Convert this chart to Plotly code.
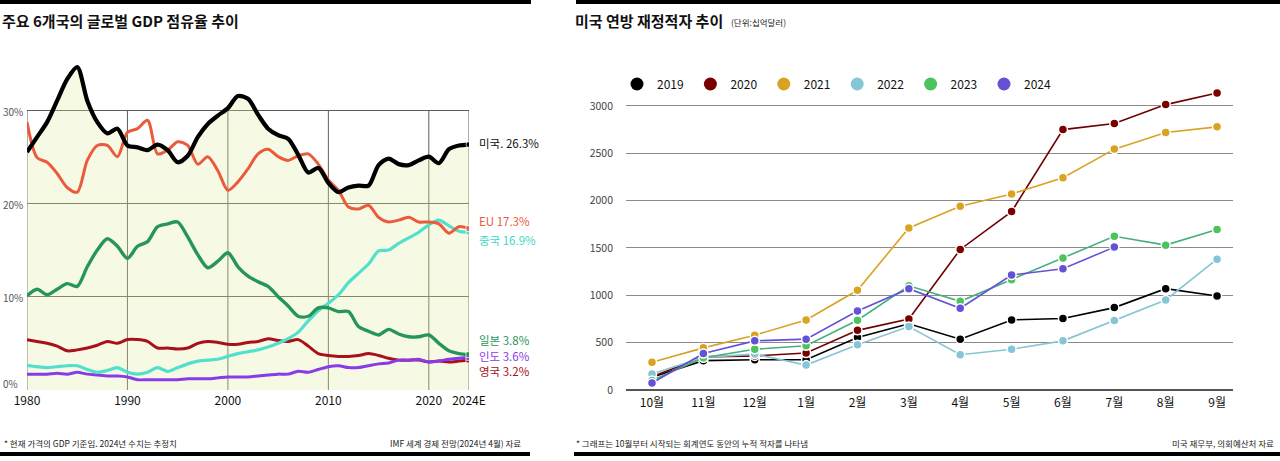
import plotly.graph_objects as go

# ---------------- Left chart data: global GDP share (%) ----------------
years = list(range(1980, 2025))
us = [25.5, 27.1, 28.7, 31.0, 33.3, 34.6, 31.0, 28.7, 27.5, 28.0,
      26.2, 26.0, 25.7, 26.3, 25.7, 24.4, 25.1, 27.1, 28.5, 29.4,
      30.2, 31.5, 31.2, 29.5, 28.0, 27.3, 26.9, 25.2, 23.3, 23.8,
      22.2, 21.2, 21.7, 21.9, 21.9, 24.1, 24.8, 24.2, 24.1, 24.6,
      25.0, 24.3, 25.8, 26.2, 26.3]
eu = [28.7, 24.9, 24.4, 23.2, 21.7, 21.2, 24.6, 26.2, 26.2, 25.0,
      27.6, 28.0, 28.9, 25.3, 25.7, 26.6, 26.2, 24.2, 25.0, 23.5,
      21.4, 22.3, 23.7, 25.3, 25.8, 25.0, 24.6, 25.1, 25.3, 24.2,
      22.5, 21.4, 19.6, 19.4, 19.8, 18.5, 18.0, 18.2, 18.5, 18.0,
      18.0, 17.8, 16.8, 17.5, 17.3]
china = [2.65, 2.5, 2.4, 2.5, 2.6, 2.6, 2.2, 1.9, 2.1, 2.4,
         1.9, 1.7, 1.9, 2.4, 2.0, 2.4, 2.8, 3.1, 3.2, 3.3,
         3.6, 3.9, 4.1, 4.3, 4.6, 5.0, 5.5, 6.2, 7.4, 8.5,
         9.3, 10.2, 11.5, 12.5, 13.5, 14.9, 15.0, 15.7, 16.3, 16.9,
         17.7, 18.2, 17.6, 17.0, 16.9]
japan = [10.1, 10.8, 10.2, 10.8, 11.4, 11.1, 13.2, 15.0, 16.2, 15.4,
         14.1, 15.4, 15.9, 17.5, 17.8, 18.0, 16.4, 14.5, 13.1, 13.8,
         14.7, 13.2, 12.2, 11.6, 11.1, 10.0, 9.0, 7.9, 7.9, 8.8,
         8.8, 8.4, 8.4, 6.8, 6.3, 5.9, 6.5, 6.0, 5.7, 5.7,
         5.9, 5.0, 4.2, 3.9, 3.8]
india = [1.7, 1.7, 1.7, 1.8, 1.7, 1.9, 1.7, 1.6, 1.5, 1.5,
         1.4, 1.1, 1.1, 1.1, 1.1, 1.1, 1.2, 1.2, 1.2, 1.3,
         1.4, 1.4, 1.4, 1.5, 1.6, 1.7, 1.7, 2.0, 1.9, 2.2,
         2.5, 2.6, 2.4, 2.4, 2.6, 2.8, 2.9, 3.2, 3.2, 3.3,
         3.0, 3.1, 3.3, 3.4, 3.5]
uk = [5.4, 5.2, 5.0, 4.7, 4.2, 4.3, 4.5, 4.8, 5.2, 5.0,
      5.4, 5.4, 5.2, 4.5, 4.5, 4.4, 4.5, 5.0, 5.2, 5.1,
      4.9, 4.9, 5.1, 5.2, 5.5, 5.3, 5.2, 5.4, 4.7, 3.9,
      3.7, 3.6, 3.6, 3.7, 3.9, 3.7, 3.4, 3.2, 3.2, 3.2,
      3.0, 3.1, 3.0, 3.1, 3.2]
left_xticks = [1980, 1990, 2000, 2010, 2020, 2024]
left_xticktext = ["1980", "1990", "2000", "2010", "2020", "2024E"]
left_yticks = [0, 10, 20, 30]
left_yticktext = ["0%", "10%", "20%", "30%"]

# ---------------- Right chart data: US federal deficit (cumulative, $bn) ----------------
months = ["10월", "11월", "12월", "1월", "2월", "3월", "4월", "5월", "6월", "7월", "8월", "9월"]
fy2019 = [135, 310, 320, 320, 555, 700, 537, 740, 755, 870, 1070, 993]
fy2020 = [140, 350, 360, 390, 630, 750, 1484, 1884, 2750, 2814, 3014, 3137]
fy2021 = [292, 445, 579, 740, 1053, 1712, 1940, 2070, 2242, 2544, 2719, 2779]
fy2022 = [168, 345, 379, 263, 477, 670, 372, 431, 519, 733, 951, 1382]
fy2023 = [100, 340, 431, 467, 737, 1100, 937, 1165, 1393, 1624, 1530, 1695]
fy2024 = [74, 386, 519, 537, 835, 1070, 863, 1214, 1281, 1509]
right_yticks = [0, 500, 1000, 1500, 2000, 2500, 3000]

FONT = "Noto Sans CJK KR"
W, H = 1280, 461


def px(x):
    return x / W


def py(y):
    return 1 - y / H


fig = go.Figure()

# ---- left chart ----
fig.add_trace(go.Scatter(
    x=years, y=us, mode="lines", line=dict(width=0, shape="spline", smoothing=0.8),
    fill="tozeroy", fillcolor="rgba(225,238,165,0.30)",
    xaxis="x", yaxis="y", showlegend=False, hoverinfo="skip"))

left_series = [
    ("영국", uk, "#a8101c", 3),
    ("인도", india, "#8a3be8", 3),
    ("중국", china, "#52e0cc", 3.2),
    ("일본", japan, "#27955a", 3.4),
    ("EU", eu, "#ec5a3c", 3),
    ("미국", us, "#000000", 4.2),
]
for name, vals, col, w in left_series:
    sizes = [0] * (len(vals) - 1) + [6]
    fig.add_trace(go.Scatter(
        x=years, y=vals, mode="lines+markers", name=name,
        line=dict(color=col, width=w, shape="spline", smoothing=0.8),
        marker=dict(size=sizes, color=col, symbol="square" if name != "미국" else "circle"),
        xaxis="x", yaxis="y", showlegend=False, hoverinfo="skip"))

# ---- right chart ----
right_series = [
    ("2019", fy2019, "#000000", "#000000"),
    ("2020", fy2020, "#6e0000", "#7a0000"),
    ("2021", fy2021, "#d9a321", "#d9a321"),
    ("2022", fy2022, "#86c5d5", "#86c5d5"),
    ("2023", fy2023, "#45b07e", "#4cc35c"),
    ("2024", fy2024, "#6451d6", "#6451d6"),
]
for name, vals, lcol, mcol in right_series:
    fig.add_trace(go.Scatter(
        x=months[:len(vals)], y=vals, mode="lines+markers", name=name,
        line=dict(color=lcol, width=1.6),
        marker=dict(size=9, color=mcol, line=dict(color="white", width=1.5)),
        xaxis="x2", yaxis="y2", showlegend=False))
    fig.add_trace(go.Scatter(
        x=[None], y=[None], mode="markers", name=name,
        marker=dict(size=13, color=mcol),
        xaxis="x2", yaxis="y2", showlegend=True, hoverinfo="skip"))

shapes = []
# vertical frame lines of left chart (0% - 30%)
for yr in left_xticks:
    shapes.append(dict(type="line", xref="x", yref="y", x0=yr, x1=yr, y0=0, y1=30,
                       line=dict(color="#5e5e50", width=1), layer="below"))
# black rules
for x0, x1, y0, y1 in [(0, 531, 0, 4), (576, 1280, 0, 4), (0, 530, 452, 456), (574, 1280, 452, 456)]:
    shapes.append(dict(type="rect", xref="paper", yref="paper",
                       x0=px(x0), x1=px(x1), y0=py(y1), y1=py(y0),
                       fillcolor="black", line=dict(width=0)))

annotations = []


def ann(text, x, y, size, color, xanchor="left"):
    annotations.append(dict(text=text, x=px(x), y=py(y), xref="paper", yref="paper",
                            xanchor=xanchor, yanchor="middle", showarrow=False,
                            font=dict(family=FONT, size=size, color=color)))


ann("<b>주요 6개국의 글로벌 GDP 점유율 추이</b>", 0, 20, 15, "#111111")
ann("<b>미국 연방 재정적자 추이</b>", 573, 20, 15, "#111111")
ann("(단위:십억달러)", 729, 22, 8.5, "#222222")
ann("미국. 26.3%", 477, 143, 11.5, "#111111")
ann("EU 17.3%", 477, 221, 11.5, "#ec5a3c")
ann("중국 16.9%", 477, 240, 11.5, "#3fd8c6")
ann("일본 3.8%", 477, 340, 11.5, "#27955a")
ann("인도 3.6%", 477, 356, 11.5, "#8a3be8")
ann("영국 3.2%", 477, 371, 11.5, "#a8101c")
ann("* 현재 가격의 GDP 기준임. 2024년 수치는 추정치", 2, 443, 8.5, "#222222")
ann("IMF 세계 경제 전망(2024년 4월) 자료", 523, 443, 8.5, "#222222", xanchor="right")
ann("* 그래프는 10월부터 시작되는 회계연도 동안의 누적 적자를 나타냄", 574, 443, 8.5, "#222222")
ann("미국 재무부, 의회예산처 자료", 1276, 443, 8.5, "#222222", xanchor="right")

# left y tick labels placed as annotations in data units
for v, t in zip(left_yticks, left_yticktext):
    annotations.append(dict(text=t, x=px(2), y=v, xref="paper", yref="y",
                            xanchor="left", yanchor="middle", yshift=(7 if v == 0 else -1),
                            showarrow=False, borderpad=0,
                            font=dict(family=FONT, size=10, color="#555555")))

fig.update_layout(
    width=W, height=H,
    margin=dict(l=0, r=0, t=0, b=0, autoexpand=False),
    paper_bgcolor="white", plot_bgcolor="rgba(0,0,0,0)",
    font=dict(family=FONT, color="#111111"),
    shapes=shapes, annotations=annotations,
    xaxis=dict(domain=[px(27), px(469)], range=[1980, 2024],
               tickvals=left_xticks, ticktext=left_xticktext,
               showgrid=False, zeroline=False, showline=False, ticks="",
               tickfont=dict(family=FONT, size=12, color="#111111"), ticklabelstandoff=2,
               automargin=False, fixedrange=True),
    yaxis=dict(domain=[py(390), py(54)], range=[0, 36],
               tickvals=left_yticks, showticklabels=False,
               showgrid=True, gridcolor="#5e5e50", gridwidth=1,
               zeroline=False, showline=False, ticks="",
               automargin=False, fixedrange=True),
    xaxis2=dict(domain=[px(626), px(1233)], type="category", categoryorder="array",
                categoryarray=months, range=[-0.506, 11.31],
                showgrid=False, zeroline=False, showline=False, ticks="",
                tickfont=dict(family=FONT, size=12, color="#111111"), ticklabelstandoff=4,
                anchor="y2", automargin=False, fixedrange=True),
    yaxis2=dict(domain=[py(390), py(87)], range=[0, 3200],
                tickvals=right_yticks,
                showgrid=True, gridcolor="#8a8a8a", gridwidth=1,
                zeroline=True, zerolinecolor="#555555", zerolinewidth=1.5,
                showline=False, ticks="",
                tickfont=dict(family=FONT, size=10.5, color="#444444"), ticklabelstandoff=12,
                anchor="x2", automargin=False, fixedrange=True),
    legend=dict(orientation="h", x=px(617), y=py(84), xanchor="left", yanchor="middle",
                font=dict(family=FONT, size=12, color="#111111"),
                entrywidth=28.4, entrywidthmode="pixels", itemsizing="trace",
                bgcolor="rgba(0,0,0,0)", borderwidth=0),
)

fig.write_html("out.html", config={"displayModeBar": False},
               post_script="document.body.style.margin='0';")
